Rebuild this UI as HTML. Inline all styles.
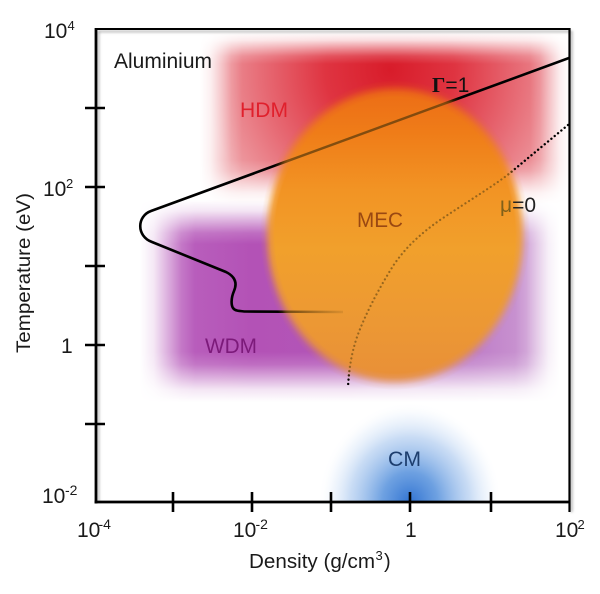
<!DOCTYPE html>
<html>
<head>
<meta charset="utf-8">
<style>
html,body{margin:0;padding:0;background:#fff;}
svg{display:block;}
text{font-family:"Liberation Sans",sans-serif;font-size:21px;}
</style>
</head>
<body>
<svg width="600" height="594" viewBox="0 0 600 594" xmlns="http://www.w3.org/2000/svg">
<defs>
  <filter id="b1" x="-10%" y="-10%" width="120%" height="120%"><feGaussianBlur stdDeviation="1.2"/></filter>

  <!-- red colours -->
  <radialGradient id="gr" gradientUnits="userSpaceOnUse" cx="390" cy="70" r="185">
    <stop offset="0" stop-color="#d81c2a"/>
    <stop offset="0.35" stop-color="#df3441"/>
    <stop offset="0.7" stop-color="#e76c76"/>
    <stop offset="1" stop-color="#eea0a6"/>
  </radialGradient>
  <!-- red soft edges (smoothstep ramps) -->
  <linearGradient id="hR" gradientUnits="userSpaceOnUse" x1="200" y1="0" x2="570" y2="0">
    <stop offset="0" stop-color="#000"/>
    <stop offset="0.028" stop-color="#282828"/>
    <stop offset="0.057" stop-color="#808080"/>
    <stop offset="0.085" stop-color="#d7d7d7"/>
    <stop offset="0.114" stop-color="#fff"/>
    <stop offset="0.892" stop-color="#fff"/>
    <stop offset="0.919" stop-color="#d7d7d7"/>
    <stop offset="0.946" stop-color="#808080"/>
    <stop offset="0.973" stop-color="#282828"/>
    <stop offset="1" stop-color="#000"/>
  </linearGradient>
  <linearGradient id="vR" gradientUnits="userSpaceOnUse" x1="0" y1="32" x2="0" y2="204">
    <stop offset="0" stop-color="#000"/>
    <stop offset="0.047" stop-color="#282828"/>
    <stop offset="0.093" stop-color="#808080"/>
    <stop offset="0.14" stop-color="#d7d7d7"/>
    <stop offset="0.186" stop-color="#fff"/>
    <stop offset="0.744" stop-color="#fff"/>
    <stop offset="0.808" stop-color="#d7d7d7"/>
    <stop offset="0.872" stop-color="#808080"/>
    <stop offset="0.936" stop-color="#282828"/>
    <stop offset="1" stop-color="#000"/>
  </linearGradient>
  <mask id="vRm" maskUnits="userSpaceOnUse" x="0" y="0" width="600" height="594">
    <rect x="0" y="0" width="600" height="594" fill="url(#vR)"/>
  </mask>
  <mask id="mRed" maskUnits="userSpaceOnUse" x="0" y="0" width="600" height="594">
    <rect x="0" y="0" width="600" height="594" fill="url(#hR)" mask="url(#vRm)"/>
  </mask>

  <!-- purple colours -->
  <linearGradient id="gp" gradientUnits="userSpaceOnUse" x1="150" y1="0" x2="555" y2="0">
    <stop offset="0" stop-color="#bc66c0"/>
    <stop offset="0.25" stop-color="#b352b6"/>
    <stop offset="0.5" stop-color="#b256b8"/>
    <stop offset="0.8" stop-color="#bf7ec8"/>
    <stop offset="1" stop-color="#cfa2d6"/>
  </linearGradient>
  <linearGradient id="hP" gradientUnits="userSpaceOnUse" x1="140" y1="0" x2="560" y2="0">
    <stop offset="0" stop-color="#000"/>
    <stop offset="0.033" stop-color="#282828"/>
    <stop offset="0.065" stop-color="#808080"/>
    <stop offset="0.098" stop-color="#d7d7d7"/>
    <stop offset="0.131" stop-color="#fff"/>
    <stop offset="0.893" stop-color="#fff"/>
    <stop offset="0.92" stop-color="#d7d7d7"/>
    <stop offset="0.946" stop-color="#808080"/>
    <stop offset="0.973" stop-color="#282828"/>
    <stop offset="1" stop-color="#000"/>
  </linearGradient>
  <linearGradient id="vP" gradientUnits="userSpaceOnUse" x1="0" y1="200" x2="0" y2="402">
    <stop offset="0" stop-color="#000"/>
    <stop offset="0.054" stop-color="#282828"/>
    <stop offset="0.109" stop-color="#808080"/>
    <stop offset="0.163" stop-color="#d7d7d7"/>
    <stop offset="0.218" stop-color="#fff"/>
    <stop offset="0.752" stop-color="#fff"/>
    <stop offset="0.814" stop-color="#d7d7d7"/>
    <stop offset="0.876" stop-color="#808080"/>
    <stop offset="0.938" stop-color="#282828"/>
    <stop offset="1" stop-color="#000"/>
  </linearGradient>
  <mask id="vPm" maskUnits="userSpaceOnUse" x="0" y="0" width="600" height="594">
    <rect x="0" y="0" width="600" height="594" fill="url(#vP)"/>
  </mask>
  <mask id="mPur" maskUnits="userSpaceOnUse" x="0" y="0" width="600" height="594">
    <rect x="0" y="0" width="600" height="594" fill="url(#hP)" mask="url(#vPm)"/>
  </mask>

  <!-- orange -->
  <linearGradient id="go" gradientUnits="userSpaceOnUse" x1="0" y1="88" x2="0" y2="382">
    <stop offset="0" stop-color="#ec6c16"/>
    <stop offset="0.15" stop-color="#ef7c18"/>
    <stop offset="0.35" stop-color="#f29424"/>
    <stop offset="0.55" stop-color="#f1a02c"/>
    <stop offset="0.8" stop-color="#ec9834"/>
    <stop offset="1" stop-color="#e88f38"/>
  </linearGradient>
  <radialGradient id="oEdge" cx="0.5" cy="0.5" r="0.5">
    <stop offset="0" stop-color="#fff"/>
    <stop offset="0.89" stop-color="#fff"/>
    <stop offset="0.92" stop-color="#d7d7d7"/>
    <stop offset="0.945" stop-color="#808080"/>
    <stop offset="0.97" stop-color="#282828"/>
    <stop offset="1" stop-color="#000"/>
  </radialGradient>
  <mask id="om" maskUnits="userSpaceOnUse" x="0" y="0" width="600" height="594">
    <ellipse cx="395" cy="235" rx="135" ry="155" fill="url(#oEdge)"/>
  </mask>

  <radialGradient id="gc" cx="0.5" cy="0.5" r="0.5">
    <stop offset="0" stop-color="#3274d2" stop-opacity="1"/>
    <stop offset="0.3" stop-color="#5490dc" stop-opacity="0.85"/>
    <stop offset="0.65" stop-color="#9cbfec" stop-opacity="0.55"/>
    <stop offset="0.85" stop-color="#d4e4f8" stop-opacity="0.3"/>
    <stop offset="1" stop-color="#ffffff" stop-opacity="0"/>
  </radialGradient>
  <linearGradient id="gh" gradientUnits="userSpaceOnUse" x1="272" y1="0" x2="345" y2="0">
    <stop offset="0" stop-color="#3a2606" stop-opacity="0.9"/>
    <stop offset="1" stop-color="#6a4a10" stop-opacity="0.12"/>
  </linearGradient>
  <clipPath id="plot"><rect x="96" y="29" width="473" height="473"/></clipPath>
</defs>

<g clip-path="url(#plot)">
  <!-- HDM red -->
  <rect x="0" y="0" width="600" height="594" fill="url(#gr)" mask="url(#mRed)"/>
  <!-- WDM purple -->
  <rect x="0" y="0" width="600" height="594" fill="url(#gp)" mask="url(#mPur)"/>

  <!-- curves (black, underneath orange) -->
  <path d="M569,58 L151,211 C137,216 136,236 152,242 L226,272 C236,277 237,284 234,291 C231,298 231,305 233,308 C235,311 239,311 245,311.5 L343,312" fill="none" stroke="#000" stroke-width="2.6" stroke-linejoin="round"/>
  <path d="M568,125 L510,173 C495,185 470,200 440,220 C420,234 405,248 393,266 C378,290 365,315 357,337 C351,355 349,370 348,387" fill="none" stroke="#000" stroke-width="2.4" stroke-linecap="round" stroke-dasharray="0.01 4.3"/>

  <!-- MEC orange -->
  <ellipse cx="395" cy="235" rx="135" ry="155" fill="url(#go)" mask="url(#om)"/>

  <!-- curves seen through orange -->
  <g mask="url(#om)">
    <path d="M569,58 L151,211" fill="none" stroke="#5e3c0c" stroke-opacity="0.75" stroke-width="2.4"/>
    <path d="M245,311.5 L343,312" fill="none" stroke="url(#gh)" stroke-width="2.4"/>
    <path d="M568,125 L510,173 C495,185 470,200 440,220 C420,234 405,248 393,266 C378,290 365,315 357,337 C351,355 349,370 348,387" fill="none" stroke="#7a5418" stroke-opacity="0.75" stroke-width="2.2" stroke-linecap="round" stroke-dasharray="0.01 4.3"/>
  </g>

  <!-- CM blue -->
  <ellipse cx="410" cy="502" rx="92" ry="100" fill="url(#gc)"/>
</g>

<!-- region labels -->
<text x="114" y="68" style="font-size:21px" fill="#1a1a1a" textLength="98" lengthAdjust="spacingAndGlyphs">Aluminium</text>
<text x="240" y="117" style="font-size:21px" fill="#e0202c" textLength="48" lengthAdjust="spacingAndGlyphs">HDM</text>
<text x="357" y="227" style="font-size:21px" fill="#9a4812" textLength="46" lengthAdjust="spacingAndGlyphs">MEC</text>
<text x="205" y="353" style="font-size:21px" fill="#7c1a7a" textLength="52" lengthAdjust="spacingAndGlyphs">WDM</text>
<text x="388" y="466" style="font-size:21px" fill="#1d3e6e" textLength="33" lengthAdjust="spacingAndGlyphs">CM</text>
<text x="432" y="92" style="font-size:21px" fill="#111"><tspan style="font-family:'Liberation Serif',serif;font-weight:bold;font-size:21px">Γ</tspan><tspan>=1</tspan></text>
<text x="500" y="212" style="font-size:21px" fill="#222"><tspan fill="#80601a">μ</tspan><tspan>=0</tspan></text>

<!-- frame shadow -->
<g filter="url(#b1)" stroke="#9a9a9a" stroke-opacity="0.7" fill="none">
  <line x1="98" y1="31.5" x2="571" y2="31.5" stroke-width="2"/>
  <line x1="571.5" y1="31" x2="571.5" y2="512" stroke-width="2.5"/>
  <line x1="98.5" y1="31" x2="98.5" y2="502" stroke-width="2"/>
</g>
<!-- frame -->
<g stroke="#000" fill="none">
  <line x1="96" y1="29" x2="570" y2="29" stroke-width="2"/>
  <line x1="569.5" y1="28" x2="569.5" y2="512" stroke-width="2.2"/>
  <line x1="96" y1="28" x2="96" y2="503.5" stroke-width="2.8"/>
  <line x1="94.6" y1="502" x2="570.5" y2="502" stroke-width="2.8"/>
  <line x1="85" y1="108" x2="105" y2="108" stroke-width="2.6"/>
  <line x1="85" y1="187" x2="105" y2="187" stroke-width="2.6"/>
  <line x1="85" y1="266" x2="105" y2="266" stroke-width="2.6"/>
  <line x1="85" y1="345" x2="105" y2="345" stroke-width="2.6"/>
  <line x1="85" y1="424" x2="105" y2="424" stroke-width="2.6"/>
  <line x1="173" y1="492" x2="173" y2="512" stroke-width="2.6"/>
  <line x1="252" y1="492" x2="252" y2="512" stroke-width="2.6"/>
  <line x1="331" y1="492" x2="331" y2="512" stroke-width="2.6"/>
  <line x1="410" y1="492" x2="410" y2="512" stroke-width="2.6"/>
  <line x1="491" y1="492" x2="491" y2="512" stroke-width="2.6"/>
</g>

<!-- y tick labels -->
<g fill="#1a1a1a">
  <text x="44" y="38" style="font-size:21px">10</text>
  <text x="67.5" y="30" style="font-size:13px">4</text>
  <text x="43" y="196" style="font-size:21px">10</text>
  <text x="66" y="188" style="font-size:13px">2</text>
  <text x="61" y="353" style="font-size:21px">1</text>
  <text x="42" y="503" style="font-size:21px">10</text>
  <text x="65" y="495" style="font-size:14px">-2</text>
</g>
<!-- x tick labels -->
<g fill="#1a1a1a">
  <text x="77" y="537" style="font-size:21px">10</text>
  <text x="98.5" y="529" style="font-size:14px">-4</text>
  <text x="233" y="537" style="font-size:21px">10</text>
  <text x="255.5" y="529" style="font-size:14px">-2</text>
  <text x="405" y="537" style="font-size:21px">1</text>
  <text x="555" y="537" style="font-size:21px">10</text>
  <text x="577.5" y="529" style="font-size:13px">2</text>
</g>

<!-- axis titles -->
<text transform="translate(30,273) rotate(-90)" text-anchor="middle" style="font-size:19px" fill="#1a1a1a" textLength="160" lengthAdjust="spacingAndGlyphs">Temperature (eV)</text>
<text x="249" y="568" style="font-size:20px" fill="#1a1a1a" textLength="126" lengthAdjust="spacingAndGlyphs">Density (g/cm</text>
<text x="375.5" y="560" style="font-size:13px" fill="#1a1a1a">3</text>
<text x="384" y="568" style="font-size:20px" fill="#1a1a1a">)</text>
</svg>
</body>
</html>
